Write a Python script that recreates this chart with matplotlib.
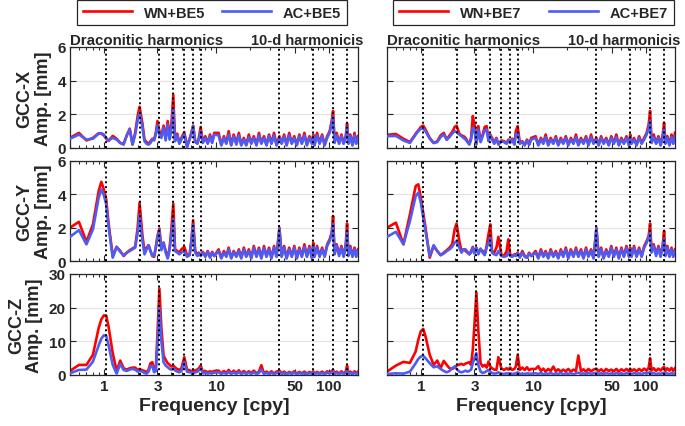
import numpy as np
import matplotlib
matplotlib.use("Agg")
import matplotlib.pyplot as plt
from matplotlib.ticker import NullFormatter, FixedLocator

plt.rcParams['font.family'] = ['Liberation Sans', 'DejaVu Sans']
plt.rcParams['font.weight'] = 'bold'

# frequency grid [cpy]: low part read peak by peak, high part for the noisy band
F_LO = [0.5, 0.6, 0.7, 0.8, 0.9, 0.95, 1.0, 1.05, 1.1, 1.2,
        1.3, 1.4, 1.5, 1.6, 1.7, 1.8, 1.9, 2.0, 2.08, 2.2,
        2.3, 2.4, 2.5, 2.6, 2.7, 2.8, 2.9, 3.0, 3.12, 3.25,
        3.4, 3.55, 3.7, 3.85, 4.0, 4.15, 4.3, 4.5, 4.7, 4.9,
        5.2, 5.5, 5.8, 6.0, 6.23, 6.5, 6.8, 7.0, 7.27, 7.6,
        8.0, 8.4, 8.8, 9.2, 9.6]
F_HI = [10.5, 11.1, 11.7, 12.3, 12.9, 13.6, 14.3, 15.1, 15.9, 16.7,
        17.6, 18.5, 19.5, 20.5, 21.6, 22.8, 24.0, 25.2, 26.6, 28.0,
        29.5, 31.0, 32.7, 34.4, 36.5, 38.2, 40.2, 42.3, 44.6, 47.0,
        49.5, 52.1, 54.9, 57.8, 60.9, 64.1, 67.5, 71.1, 73.0, 74.9,
        78.9, 83.1, 87.5, 92.2, 97.1, 102.2, 106.5, 109.6, 113.0, 118.0,
        124.0, 130.0, 136.0, 142.0, 146.0, 150.0, 156.0, 163.0, 170.0, 176.0,
        182.6]

# ---- BE5, GCC-X
X5_WN_LO = [0.6, 0.9, 0.45, 0.6, 0.88, 0.85, 0.75, 0.55, 0.42, 0.72,
            0.55, 0.3, 0.25, 0.75, 1.15, 0.22, 0.9, 1.9, 2.45, 1.5,
            0.5, 0.35, 0.25, 0.4, 0.55, 0.5, 0.9, 1.6, 1.0, 0.73,
            1.33, 0.6, 1.6, 0.6, 1.5, 3.15, 0.45, 0.85, 0.3, 0.6,
            0.95, 0.1, 0.55, 0.9, 1.33, 0.4, 0.3, 0.6, 1.25, 0.35,
            0.7, 0.3, 0.8, 0.35, 0.9]
X5_AC_LO = [0.55, 0.8, 0.5, 0.55, 0.85, 0.88, 0.8, 0.6, 0.45, 0.6,
            0.5, 0.3, 0.2, 0.75, 1.1, 0.2, 0.8, 1.65, 2.1, 1.3,
            0.4, 0.25, 0.2, 0.3, 0.5, 0.45, 0.8, 1.35, 0.8, 0.6,
            1.2, 0.45, 1.4, 0.5, 1.2, 2.35, 0.4, 0.75, 0.25, 0.5,
            0.85, 0.05, 0.5, 0.8, 1.3, 0.35, 0.25, 0.5, 1.0, 0.3,
            0.6, 0.25, 0.7, 0.3, 0.8]
X5_WN_HI = [0.9, 0.2, 0.7, 0.3, 1.0, 0.2, 0.8, 0.3, 0.9, 0.2,
            0.6, 0.2, 0.8, 0.3, 0.7, 0.2, 0.9, 0.3, 0.7, 0.2,
            0.8, 0.3, 0.9, 0.2, 0.7, 0.3, 0.8, 0.2, 0.9, 0.3,
            0.7, 0.2, 0.8, 0.3, 0.9, 0.2, 0.7, 0.3, 0.8, 0.2,
            0.9, 0.3, 0.8, 0.2, 0.7, 1.0, 1.6, 2.2, 0.4, 0.9,
            0.3, 0.8, 0.3, 0.7, 1.45, 0.3, 0.8, 0.2, 0.9, 0.3,
            0.7]
X5_AC_HI = [0.75, 0.15, 0.6, 0.25, 0.8, 0.15, 0.7, 0.2, 0.75, 0.15,
            0.5, 0.15, 0.65, 0.25, 0.6, 0.15, 0.75, 0.25, 0.6, 0.15,
            0.7, 0.25, 0.75, 0.15, 0.6, 0.25, 0.7, 0.15, 0.75, 0.25,
            0.6, 0.15, 0.7, 0.25, 0.75, 0.15, 0.6, 0.25, 0.7, 0.15,
            0.75, 0.25, 0.7, 0.15, 0.6, 0.9, 1.4, 1.85, 0.3, 0.75,
            0.25, 0.7, 0.25, 0.6, 1.25, 0.25, 0.7, 0.15, 0.75, 0.25,
            0.6]

# ---- BE5, GCC-Y
Y5_WN_LO = [2.0, 2.35, 1.15, 2.2, 4.2, 4.75, 4.3, 3.7, 2.3, 0.3,
            0.85, 0.6, 0.3, 0.5, 0.65, 0.75, 0.85, 2.0, 3.5, 1.6,
            0.55, 0.8, 0.95, 0.6, 0.3, 0.25, 0.8, 1.5, 1.95, 0.75,
            1.1, 0.6, 0.2, 0.8, 2.0, 3.45, 0.7, 0.6, 0.5, 0.7,
            0.85, 0.35, 0.4, 1.2, 2.45, 0.6, 0.4, 0.5, 0.35, 0.55,
            0.3, 0.6, 0.25, 0.55, 0.3]
Y5_AC_LO = [1.45, 1.85, 1.0, 1.9, 3.8, 4.3, 3.95, 3.4, 2.1, 0.2,
            0.85, 0.55, 0.35, 0.5, 0.6, 0.7, 0.8, 1.7, 2.75, 1.3,
            0.4, 0.7, 0.95, 0.6, 0.3, 0.3, 0.8, 1.4, 1.85, 0.65,
            1.1, 0.5, 0.15, 0.7, 1.6, 2.5, 0.6, 0.5, 0.4, 0.5,
            0.6, 0.25, 0.35, 1.1, 2.15, 0.5, 0.3, 0.45, 0.3, 0.5,
            0.25, 0.55, 0.2, 0.5, 0.3]
Y5_WN_HI = [0.7, 0.2, 0.6, 0.3, 0.8, 0.2, 0.6, 0.3, 0.7, 0.2,
            0.8, 0.3, 0.7, 0.2, 0.9, 0.3, 0.8, 0.2, 0.9, 0.3,
            0.8, 0.2, 0.9, 0.3, 2.0, 0.3, 0.9, 0.2, 0.8, 0.3,
            0.9, 0.2, 0.8, 0.3, 1.0, 0.3, 0.9, 0.2, 1.1, 0.3,
            0.9, 0.3, 0.8, 0.3, 1.0, 1.3, 1.7, 2.7, 0.5, 1.0,
            0.4, 0.9, 0.3, 1.0, 2.25, 0.4, 0.9, 0.3, 0.8, 0.3,
            0.7]
Y5_AC_HI = [0.6, 0.15, 0.5, 0.25, 0.7, 0.15, 0.55, 0.25, 0.6, 0.15,
            0.7, 0.25, 0.6, 0.15, 0.8, 0.25, 0.7, 0.15, 0.8, 0.25,
            0.7, 0.15, 0.8, 0.25, 1.95, 0.25, 0.8, 0.15, 0.7, 0.25,
            0.8, 0.15, 0.7, 0.25, 0.85, 0.25, 0.8, 0.15, 0.9, 0.25,
            0.8, 0.25, 0.7, 0.25, 0.9, 1.2, 1.6, 2.2, 0.4, 0.9,
            0.3, 0.8, 0.25, 0.85, 1.8, 0.3, 0.8, 0.25, 0.7, 0.25,
            0.6]

# ---- BE5, GCC-Z
Z5_WN_LO = [1.2, 3.0, 3.0, 6.0, 14.0, 16.5, 17.7, 17.6, 14.5, 6.5,
            1.2, 4.3, 2.0, 1.6, 2.0, 2.2, 2.2, 1.5, 1.8, 1.4,
            1.2, 0.8, 1.6, 3.5, 3.8, 1.5, 2.0, 12.0, 25.7, 14.0,
            5.8, 4.5, 3.5, 3.0, 2.5, 2.8, 2.2, 1.8, 1.5, 2.0,
            5.3, 1.6, 1.4, 1.2, 1.0, 1.4, 1.6, 2.0, 2.8, 1.0,
            1.2, 0.8, 1.1, 0.9, 1.2]
Z5_AC_LO = [0.5, 1.5, 1.6, 4.0, 8.8, 10.8, 11.8, 11.6, 9.0, 3.0,
            0.4, 3.3, 1.5, 1.2, 1.6, 1.8, 1.6, 1.0, 1.2, 1.0,
            0.6, 0.4, 1.0, 2.6, 2.8, 0.8, 1.2, 9.0, 20.0, 10.0,
            3.8, 2.8, 2.3, 1.8, 1.6, 1.9, 1.4, 1.0, 0.8, 1.2,
            3.8, 1.0, 0.8, 0.7, 0.5, 0.8, 1.0, 1.4, 2.0, 0.5,
            0.7, 0.4, 0.6, 0.5, 0.7]
Z5_WN_HI = [1.3, 0.5, 1.2, 0.6, 1.5, 0.5, 1.3, 0.6, 1.4, 0.5,
            1.2, 0.5, 1.1, 0.6, 1.3, 0.5, 1.0, 2.9, 0.5, 1.0,
            0.5, 1.1, 0.4, 1.0, 1.3, 0.5, 1.0, 0.4, 0.9, 0.5,
            1.1, 0.4, 0.9, 0.5, 1.0, 0.4, 0.9, 0.5, 1.1, 0.4,
            0.9, 0.5, 1.0, 0.4, 1.1, 0.6, 1.2, 1.5, 0.5, 1.0,
            0.4, 1.1, 0.5, 1.0, 2.8, 0.5, 1.0, 0.4, 1.1, 0.5,
            1.0]
Z5_AC_HI = [0.8, 0.3, 0.7, 0.3, 0.9, 0.3, 0.8, 0.3, 0.9, 0.3,
            0.7, 0.3, 0.7, 0.3, 0.8, 0.3, 0.6, 1.6, 0.3, 0.6,
            0.3, 0.7, 0.2, 0.6, 0.8, 0.3, 0.6, 0.2, 0.6, 0.3,
            0.7, 0.2, 0.6, 0.3, 0.6, 0.2, 0.6, 0.3, 0.7, 0.2,
            0.6, 0.3, 0.6, 0.2, 0.7, 0.4, 0.8, 1.0, 0.3, 0.6,
            0.2, 0.7, 0.3, 0.6, 1.5, 0.3, 0.6, 0.2, 0.7, 0.3,
            0.6]

# ---- BE7, GCC-X
X7_WN_LO = [0.78, 0.83, 0.55, 0.35, 0.85, 1.05, 1.25, 1.33, 1.1, 0.6,
            0.3, 0.4, 0.75, 0.9, 0.5, 0.75, 0.95, 1.25, 1.33, 0.85,
            0.75, 0.7, 0.6, 0.4, 0.25, 0.6, 1.9, 1.4, 0.3, 1.3,
            0.4, 0.8, 1.25, 1.3, 0.5, 0.8, 0.6, 0.3, 0.6, 0.25,
            0.45, 0.4, 0.3, 0.5, 0.35, 0.55, 0.25, 1.0, 1.3, 0.3,
            0.4, 0.2, 0.5, 0.2, 0.6]
X7_AC_LO = [0.7, 0.72, 0.45, 0.3, 0.8, 1.0, 1.15, 1.15, 1.0, 0.55,
            0.3, 0.35, 0.65, 0.8, 0.5, 0.65, 0.85, 1.0, 0.95, 0.8,
            0.7, 0.6, 0.5, 0.35, 0.2, 0.5, 1.2, 1.1, 0.2, 1.1,
            0.35, 0.7, 1.05, 1.1, 0.4, 0.75, 0.5, 0.25, 0.55, 0.2,
            0.4, 0.35, 0.25, 0.45, 0.3, 0.5, 0.2, 0.8, 0.9, 0.25,
            0.35, 0.15, 0.45, 0.2, 0.5]
X7_WN_HI = [0.7, 0.2, 0.6, 0.3, 0.8, 0.2, 0.6, 0.3, 0.7, 0.2,
            0.6, 0.3, 0.7, 0.2, 0.6, 0.3, 0.8, 0.2, 0.6, 0.3,
            0.7, 0.2, 0.8, 0.3, 0.6, 0.2, 0.7, 0.3, 0.6, 0.2,
            0.7, 0.3, 0.8, 0.2, 0.6, 0.3, 0.7, 0.2, 0.8, 0.3,
            0.6, 0.2, 0.7, 0.3, 0.6, 0.9, 1.4, 2.2, 0.4, 0.8,
            0.3, 0.7, 0.2, 0.8, 1.5, 0.3, 0.7, 0.2, 0.8, 0.3,
            0.9]
X7_AC_HI = [0.6, 0.15, 0.5, 0.25, 0.65, 0.15, 0.5, 0.25, 0.6, 0.15,
            0.5, 0.25, 0.6, 0.15, 0.5, 0.25, 0.65, 0.15, 0.5, 0.25,
            0.6, 0.15, 0.65, 0.25, 0.5, 0.15, 0.6, 0.25, 0.5, 0.15,
            0.6, 0.25, 0.65, 0.15, 0.5, 0.25, 0.6, 0.15, 0.65, 0.25,
            0.5, 0.15, 0.6, 0.25, 0.5, 0.8, 1.2, 1.6, 0.3, 0.65,
            0.25, 0.6, 0.15, 0.65, 1.1, 0.25, 0.6, 0.15, 0.65, 0.25,
            0.7]

# ---- BE7, GCC-Y
Y7_WN_LO = [2.0, 2.3, 1.0, 2.8, 4.5, 4.6, 3.8, 2.9, 2.0, 0.2,
            0.9, 0.6, 0.35, 0.5, 0.65, 0.8, 1.0, 1.9, 2.25, 1.2,
            0.6, 0.7, 0.6, 0.5, 0.4, 0.6, 0.85, 0.5, 0.8, 0.5,
            0.7, 0.6, 0.4, 0.9, 1.6, 2.2, 0.6, 0.5, 0.8, 1.45,
            0.4, 0.3, 0.6, 1.3, 0.4, 0.3, 0.4, 0.35, 0.5, 0.25,
            0.6, 0.3, 0.2, 0.5, 0.3]
Y7_AC_LO = [1.45, 1.75, 1.0, 2.4, 3.9, 4.1, 3.5, 2.6, 1.8, 0.3,
            0.95, 0.6, 0.35, 0.45, 0.6, 0.7, 0.85, 1.1, 1.2, 0.8,
            0.5, 0.7, 0.7, 0.55, 0.4, 0.5, 0.8, 0.45, 0.8, 0.4,
            0.75, 0.5, 0.35, 0.8, 1.1, 1.4, 0.5, 0.4, 0.35, 0.6,
            0.3, 0.25, 0.3, 0.5, 0.3, 0.25, 0.35, 0.3, 0.45, 0.2,
            0.5, 0.25, 0.2, 0.45, 0.3]
Y7_WN_HI = [0.6, 0.2, 0.7, 0.3, 0.6, 0.2, 0.7, 0.3, 0.6, 0.2,
            0.7, 0.3, 0.8, 0.2, 0.7, 0.3, 0.8, 0.3, 0.7, 0.2,
            0.8, 0.3, 0.7, 0.2, 2.0, 0.3, 0.8, 0.2, 0.7, 0.3,
            0.9, 0.3, 0.8, 0.2, 0.8, 0.3, 0.9, 0.3, 0.8, 0.3,
            0.9, 0.3, 0.8, 0.3, 0.9, 1.2, 1.5, 2.25, 0.6, 1.0,
            0.4, 0.9, 0.3, 1.0, 1.8, 0.4, 0.9, 0.3, 0.8, 0.3,
            0.7]
Y7_AC_HI = [0.5, 0.15, 0.6, 0.25, 0.5, 0.15, 0.6, 0.25, 0.5, 0.15,
            0.6, 0.25, 0.7, 0.15, 0.6, 0.25, 0.7, 0.25, 0.6, 0.15,
            0.7, 0.25, 0.6, 0.15, 1.95, 0.25, 0.7, 0.15, 0.6, 0.25,
            0.8, 0.25, 0.7, 0.15, 0.7, 0.25, 0.8, 0.25, 0.7, 0.25,
            0.8, 0.25, 0.7, 0.25, 0.8, 1.1, 1.4, 1.7, 0.5, 0.9,
            0.3, 0.8, 0.25, 0.9, 1.3, 0.3, 0.8, 0.25, 0.7, 0.25,
            0.6]

# ---- BE7, GCC-Z
Z7_WN_LO = [1.0, 2.8, 3.9, 3.6, 7.0, 10.5, 13.0, 13.7, 11.5, 6.0,
            3.0, 4.3, 2.0, 4.2, 3.0, 2.0, 1.8, 2.3, 2.8, 3.1,
            3.3, 3.0, 3.4, 3.6, 3.8, 3.0, 7.5, 15.0, 24.5, 13.0,
            3.5, 2.5, 3.0, 2.2, 4.0, 2.5, 2.0, 1.6, 1.5, 5.3,
            2.0, 1.5, 2.0, 1.6, 2.2, 1.5, 1.8, 2.5, 6.0, 1.5,
            2.2, 1.5, 2.3, 1.4, 1.8]
Z7_AC_LO = [0.3, 0.5, 0.4, 1.0, 3.5, 4.8, 5.5, 5.7, 5.0, 3.5,
            2.3, 2.6, 1.8, 1.2, 0.8, 1.2, 2.0, 2.5, 1.8, 1.0,
            0.8, 1.0, 1.3, 1.0, 1.2, 1.6, 3.5, 5.0, 6.5, 3.0,
            1.0, 0.6, 0.8, 1.2, 1.5, 1.0, 0.6, 0.4, 0.5, 0.8,
            0.4, 0.3, 0.5, 0.4, 0.5, 0.3, 0.4, 0.5, 0.8, 0.3,
            0.4, 0.3, 0.5, 0.3, 0.4]
Z7_WN_HI = [1.8, 2.6, 1.2, 1.9, 1.0, 1.8, 1.2, 2.5, 1.1, 1.7,
            1.0, 1.6, 1.1, 1.8, 1.0, 1.6, 1.2, 5.8, 1.1, 1.7,
            1.0, 1.8, 1.1, 1.6, 1.9, 1.1, 1.7, 1.0, 1.8, 1.2,
            1.6, 1.1, 1.8, 1.0, 1.7, 1.2, 1.8, 1.1, 1.9, 1.2,
            1.7, 1.1, 1.8, 1.2, 1.9, 1.3, 2.2, 5.0, 1.3, 2.0,
            1.2, 1.9, 1.3, 2.1, 2.4, 1.2, 2.0, 1.3, 2.1, 1.2,
            2.0]
Z7_AC_HI = [0.5, 0.3, 0.6, 0.2, 0.5, 0.3, 0.6, 0.2, 0.5, 0.3,
            0.6, 0.2, 0.5, 0.3, 0.6, 0.2, 0.5, 0.7, 0.3, 0.5,
            0.2, 0.6, 0.3, 0.5, 0.7, 0.3, 0.5, 0.2, 0.6, 0.3,
            0.5, 0.2, 0.6, 0.3, 0.5, 0.2, 0.6, 0.3, 0.5, 0.2,
            0.6, 0.3, 0.5, 0.2, 0.6, 0.4, 0.7, 0.9, 0.3, 0.6,
            0.2, 0.5, 0.3, 0.6, 0.7, 0.3, 0.5, 0.2, 0.6, 0.3,
            0.5]

# reference lines: draconitic harmonics and 10-day harmonics [cpy]
DRACONITIC = [1.039, 2.078, 3.116, 4.155, 5.194, 6.233, 7.271]
TEN_DAY = [36.5, 73.0, 109.6, 146.1]

XTICKS = [1, 3, 10, 50, 100]
XTICKLABELS = ['1', '3', '10', '50', '100']
COMPONENTS = ['X', 'Y', 'Z']
YLIMS = [6, 6, 30]
YTICKS = [[0, 2, 4, 6], [0, 2, 4, 6], [0, 10, 20, 30]]

RED = '#ff0000'
BLUE = '#4d5cf2'
DARK = '#262626'

freq = np.array(F_LO + F_HI)
series = {
    ('BE5', 'X'): (X5_WN_LO + X5_WN_HI, X5_AC_LO + X5_AC_HI),
    ('BE5', 'Y'): (Y5_WN_LO + Y5_WN_HI, Y5_AC_LO + Y5_AC_HI),
    ('BE5', 'Z'): (Z5_WN_LO + Z5_WN_HI, Z5_AC_LO + Z5_AC_HI),
    ('BE7', 'X'): (X7_WN_LO + X7_WN_HI, X7_AC_LO + X7_AC_HI),
    ('BE7', 'Y'): (Y7_WN_LO + Y7_WN_HI, Y7_AC_LO + Y7_AC_HI),
    ('BE7', 'Z'): (Z7_WN_LO + Z7_WN_HI, Z7_AC_LO + Z7_AC_HI),
}

fig = plt.figure(figsize=(6.85, 4.27), dpi=100)
W, H = 685.0, 427.0
lefts = [70 / W, 387 / W]
width = 288 / W
rows_px = [(48, 149), (162, 262), (275, 376)]

for c, model in enumerate(['BE5', 'BE7']):
    for r, comp in enumerate(COMPONENTS):
        t, b = rows_px[r]
        ax = fig.add_axes([lefts[c], 1 - b / H, width, (b - t) / H])
        wn, ac = series[(model, comp)]
        l1, = ax.plot(freq, wn, color=RED, lw=1.9, zorder=2, label='WN+' + model)
        l2, = ax.plot(freq, ac, color=BLUE, lw=1.9, zorder=3, label='AC+' + model)
        for v in DRACONITIC + TEN_DAY:
            ax.axvline(v, color='k', ls=(0, (1, 1.5)), lw=1.4, zorder=4)

        ax.set_xscale('log')
        ax.set_xlim(0.5, 182.6)
        ax.set_ylim(0, YLIMS[r])
        ax.set_yticks(YTICKS[r])
        ax.xaxis.set_major_locator(FixedLocator(XTICKS))
        ax.xaxis.set_minor_formatter(NullFormatter())
        if r == 2:
            ax.set_xticklabels(XTICKLABELS)
            ax.set_xlabel('Frequency [cpy]', fontsize=14, fontweight='bold', color=DARK, labelpad=3)
        else:
            ax.set_xticklabels([])
        if c == 0:
            ax.set_ylabel('GCC-%s\nAmp. [mm]' % comp, fontsize=13, fontweight='bold',
                          color=DARK, linespacing=1.1, labelpad=4)
        else:
            ax.set_yticklabels([])

        ax.yaxis.grid(True, color='#e4e4e4', lw=0.9)
        ax.set_axisbelow(True)
        ax.tick_params(which='both', direction='in', top=True, right=True,
                       labelsize=11, colors=DARK, width=0.8, pad=3)
        ax.tick_params(which='major', length=4)
        ax.tick_params(which='minor', length=2.2)
        for s in ax.spines.values():
            s.set_color(DARK)
            s.set_linewidth(0.9)

        if r == 0:
            ax.annotate('Draconitic harmonics', xy=(0, 1), xycoords='axes fraction',
                        xytext=(0, 2.5), textcoords='offset points',
                        ha='left', va='baseline', fontsize=10.8, fontweight='bold', color=DARK)
            ax.annotate('10-d harmonicis', xy=(181 / 288, 1), xycoords='axes fraction',
                        xytext=(0, 2.5), textcoords='offset points',
                        ha='left', va='baseline', fontsize=10.5, fontweight='bold', color=DARK)
            handles = [l1, l2]

    leg_x = [77 / W, 393 / W][c]
    leg_w = [270 / W, 281 / W][c]
    leg = fig.legend(handles, [h.get_label() for h in handles], loc='center',
                     bbox_to_anchor=(leg_x, 1 - 26 / H, leg_w, 25 / H), mode='expand',
                     ncol=2, fancybox=False, edgecolor=DARK, fontsize=10.5,
                     handlelength=3.4, borderaxespad=0, borderpad=0.4, framealpha=1)
    leg.get_frame().set_linewidth(0.9)
    for txt in leg.get_texts():
        txt.set_color(DARK)
        txt.set_fontweight('bold')

fig.savefig('out.png', dpi=100)
